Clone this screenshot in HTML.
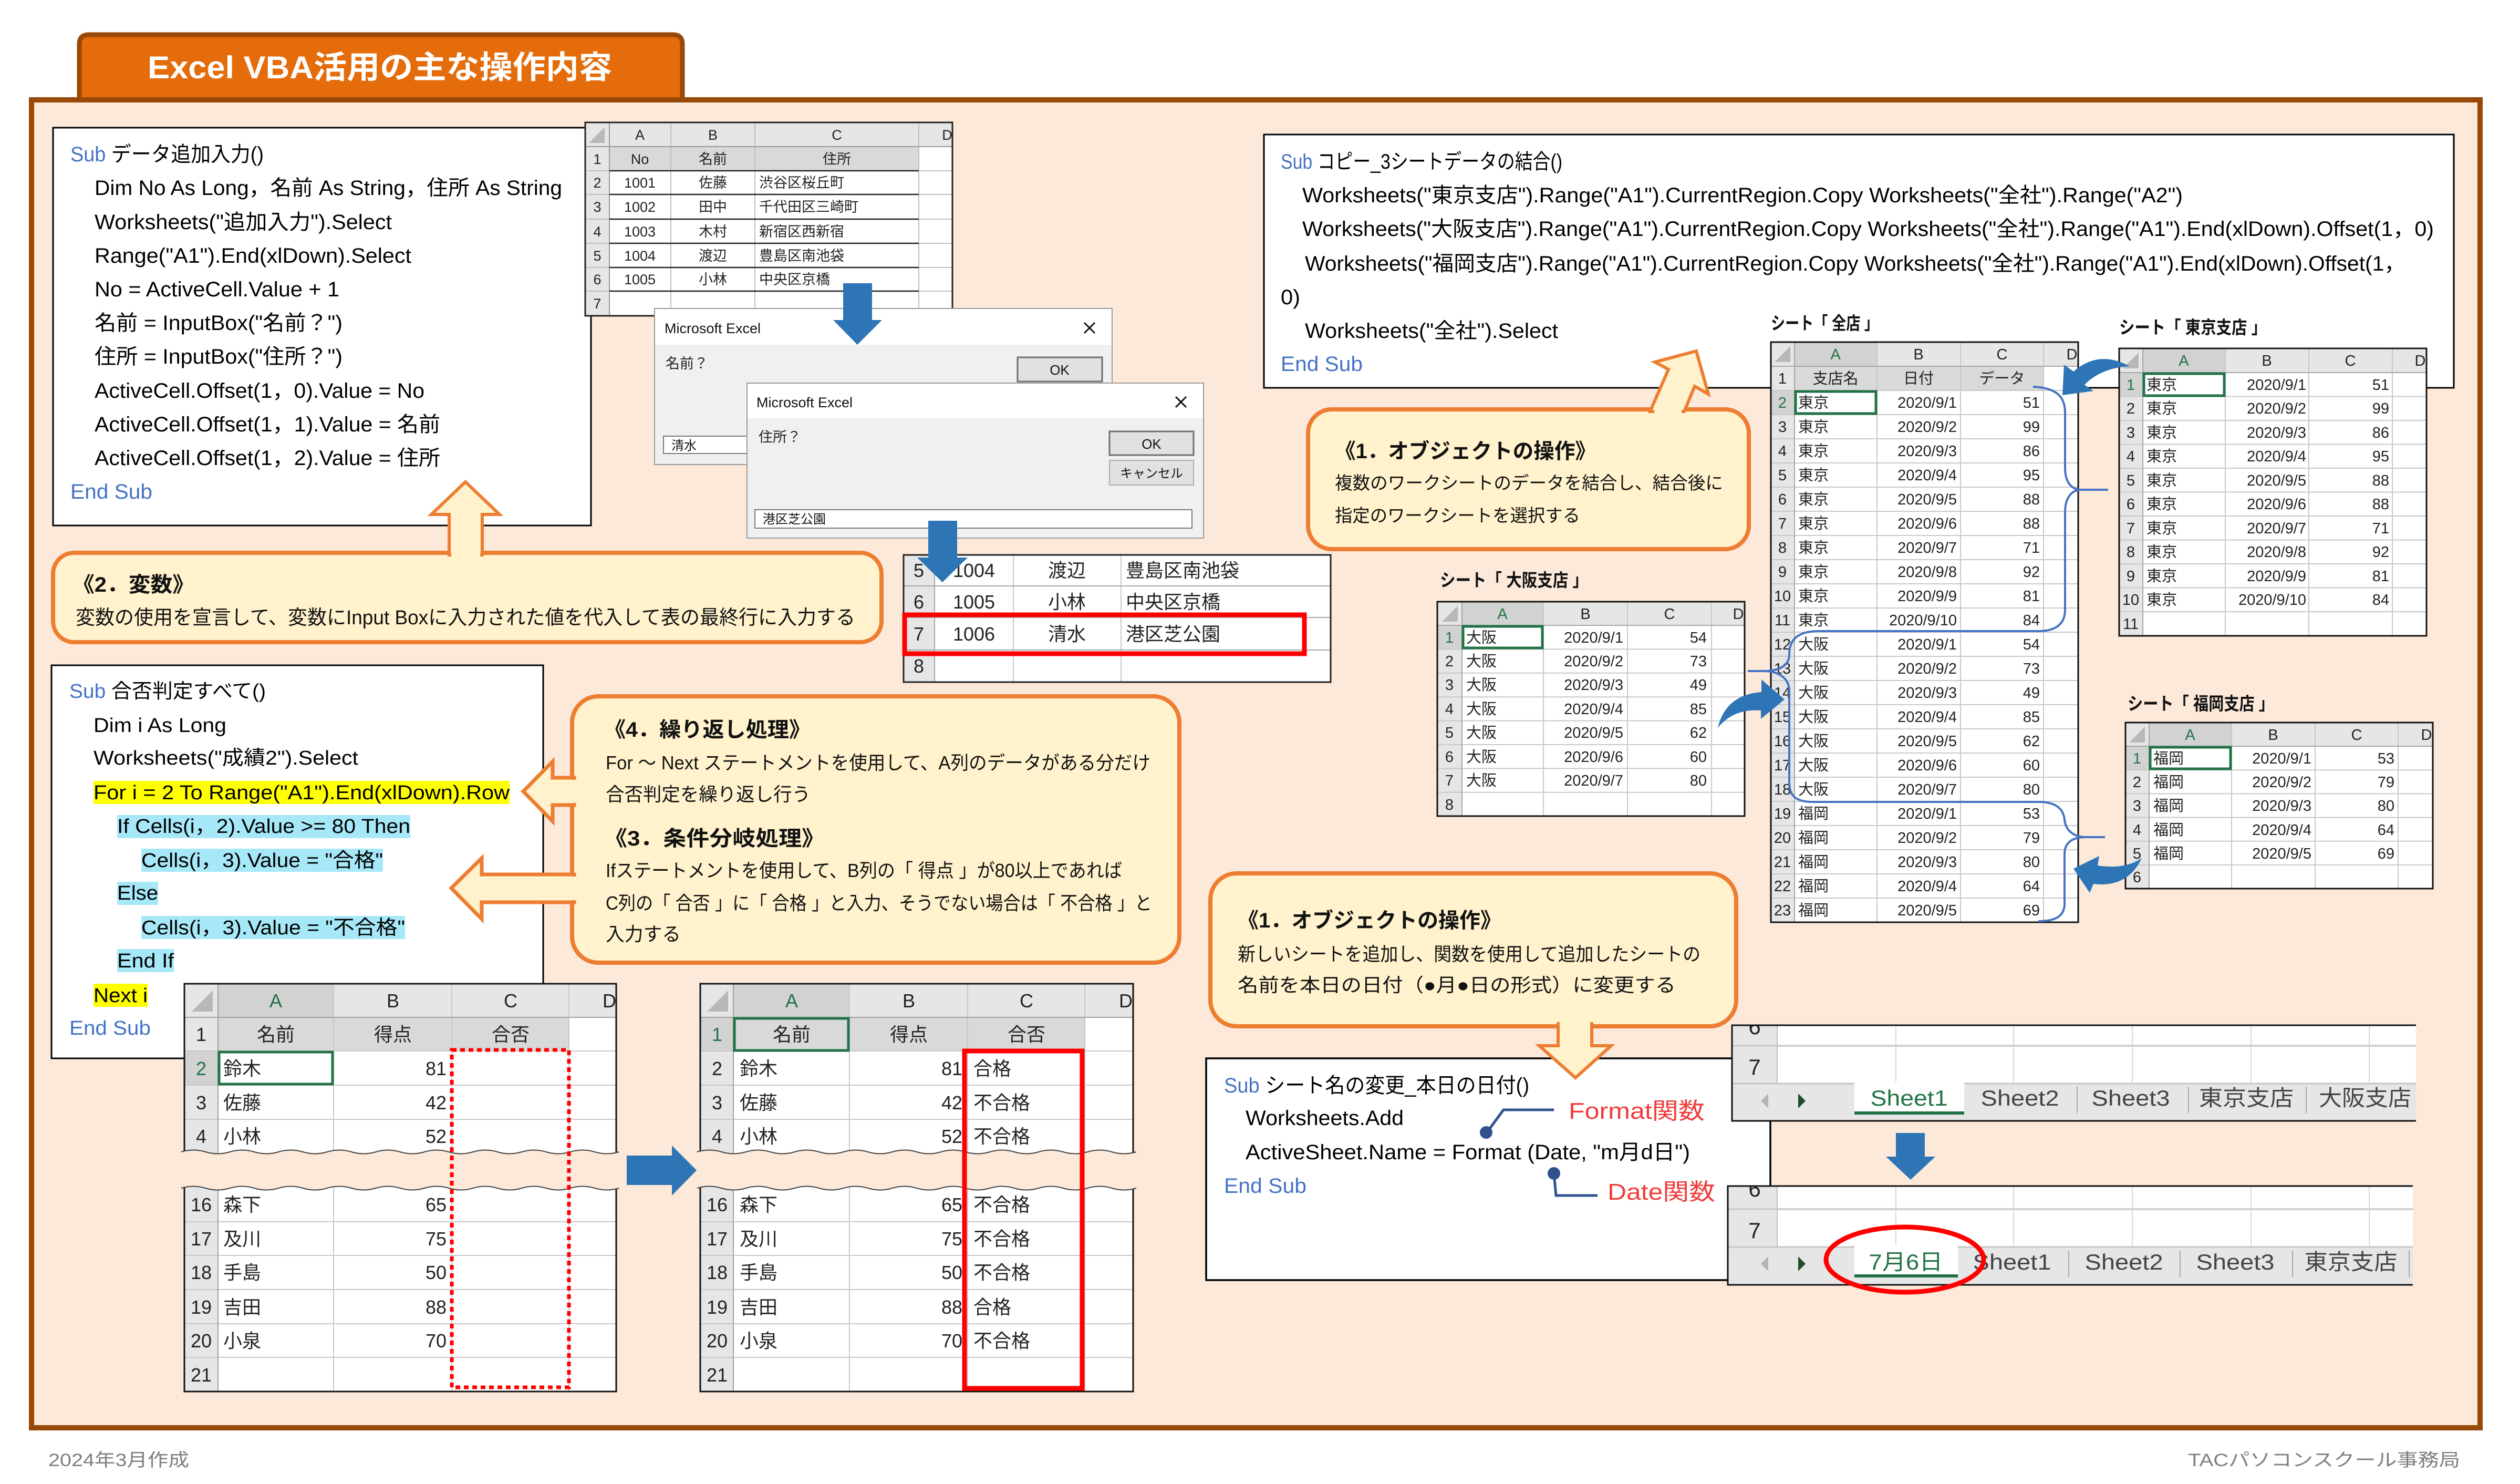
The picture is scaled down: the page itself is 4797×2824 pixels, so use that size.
<!DOCTYPE html>
<html><head><meta charset="utf-8"><title>Excel VBA活用の主な操作内容</title>
<style>
html,body{margin:0;padding:0;background:#fff;}
svg{display:block;}
text{font-family:"Liberation Sans","Noto Sans CJK JP",sans-serif;}
</style></head><body>
<svg xmlns="http://www.w3.org/2000/svg" width="4797" height="2824" viewBox="0 0 4797 2824">
<defs>
<clipPath id="c1"><rect x="1114" y="233" width="699" height="368"/></clipPath>
<clipPath id="t1"><rect x="3297" y="1951" width="1302" height="182"/></clipPath>
<clipPath id="t2"><rect x="3289" y="2257" width="1304" height="188"/></clipPath>
</defs>
<rect width="4797" height="2824" fill="#fff"/>

<!-- Title tab -->
<path d="M151 192 V84 Q151 66 169 66 H1281 Q1299 66 1299 84 V192" fill="#e46c0a" stroke="#984807" stroke-width="9"/>
<text x="281" y="149" font-size="60" font-weight="bold" fill="#fff" textLength="884" lengthAdjust="spacingAndGlyphs">Excel VBA活用の主な操作内容</text>

<!-- Frame -->
<rect x="60" y="190" width="4661" height="2527" fill="#fce9da" stroke="#984807" stroke-width="10"/>

<!-- Code box 1 -->
<rect x="101" y="243" width="1024" height="757" fill="#fff" stroke="#000" stroke-width="3"/>
<g font-size="40" fill="#000">
<text x="134" y="307" textLength="368" lengthAdjust="spacingAndGlyphs"><tspan fill="#4472c4">Sub</tspan> データ追加入力()</text>
<text x="180" y="371" textLength="890" lengthAdjust="spacingAndGlyphs">Dim No As Long，名前 As String，住所 As String</text>
<text x="180" y="436" textLength="566" lengthAdjust="spacingAndGlyphs">Worksheets("追加入力").Select</text>
<text x="180" y="500" textLength="603" lengthAdjust="spacingAndGlyphs">Range("A1").End(xlDown).Select</text>
<text x="180" y="564" textLength="466" lengthAdjust="spacingAndGlyphs">No = ActiveCell.Value + 1</text>
<text x="180" y="628" textLength="472" lengthAdjust="spacingAndGlyphs">名前 = InputBox("名前？")</text>
<text x="180" y="692" textLength="472" lengthAdjust="spacingAndGlyphs">住所 = InputBox("住所？")</text>
<text x="180" y="757" textLength="628" lengthAdjust="spacingAndGlyphs">ActiveCell.Offset(1，0).Value = No</text>
<text x="180" y="821" textLength="658" lengthAdjust="spacingAndGlyphs">ActiveCell.Offset(1，1).Value = 名前</text>
<text x="180" y="885" textLength="658" lengthAdjust="spacingAndGlyphs">ActiveCell.Offset(1，2).Value = 住所</text>
<text x="134" y="949" fill="#4472c4" textLength="156" lengthAdjust="spacingAndGlyphs">End Sub</text>
</g>

<!-- Sheet 1 (top) -->
<g clip-path="url(#c1)">
<rect x="1114" y="233" width="699" height="368" fill="#fff"/>
<rect x="1114" y="233" width="699" height="46" fill="#e6e6e6"/>
<rect x="1114" y="279" width="46" height="322" fill="#e6e6e6"/>
<rect x="1160" y="279" width="589" height="46" fill="#d9d9d9"/>
<path d="M1277 233V601M1437 233V601M1749 233V601" stroke="#c0c0c0" stroke-width="2"/>
<path d="M1114 325H1813M1114 370H1813M1114 417H1813M1114 463H1813M1114 509H1813M1114 554H1813" stroke="#c0c0c0" stroke-width="2"/>
<path d="M1114 279H1813M1160 233V601" stroke="#9a9a9a" stroke-width="2"/>
<path d="M1160 325H1749M1160 370H1749M1160 417H1749M1160 463H1749M1160 509H1749M1160 554H1749" stroke="#222" stroke-width="2.5"/>
<polygon points="1151,242 1151,272 1121,272" fill="#b8b8b8"/>
<g font-size="27" fill="#222" text-anchor="middle">
<text x="1218" y="266">A</text><text x="1357" y="266">B</text><text x="1593" y="266">C</text><text x="1803" y="266">D</text>
<text x="1137" y="312">1</text><text x="1137" y="357">2</text><text x="1137" y="403">3</text><text x="1137" y="450">4</text><text x="1137" y="496">5</text><text x="1137" y="541">6</text><text x="1137" y="587">7</text>
<text x="1218" y="312">No</text><text x="1357" y="312">名前</text><text x="1593" y="312">住所</text>
<text x="1218" y="357">1001</text><text x="1357" y="357">佐藤</text>
<text x="1218" y="403">1002</text><text x="1357" y="403">田中</text>
<text x="1218" y="450">1003</text><text x="1357" y="450">木村</text>
<text x="1218" y="496">1004</text><text x="1357" y="496">渡辺</text>
<text x="1218" y="541">1005</text><text x="1357" y="541">小林</text>
</g>
<g font-size="27" fill="#222">
<text x="1445" y="357">渋谷区桜丘町</text>
<text x="1445" y="403">千代田区三崎町</text>
<text x="1445" y="450">新宿区西新宿</text>
<text x="1445" y="496">豊島区南池袋</text>
<text x="1445" y="541">中央区京橋</text>
</g>
</g>
<rect x="1114" y="233" width="699" height="368" fill="none" stroke="#222" stroke-width="3"/>

<!-- Dialog 1 -->
<rect x="1246" y="587" width="871" height="297" fill="#f0f0f0" stroke="#9a9a9a" stroke-width="2"/>
<rect x="1247" y="588" width="869" height="68" fill="#fff"/>
<text x="1265" y="634" font-size="27" fill="#111">Microsoft Excel</text>
<path d="M2064 614L2084 634M2084 614L2064 634" stroke="#111" stroke-width="3"/>
<text x="1267" y="701" font-size="27" fill="#222">名前？</text>
<rect x="1937" y="680" width="161" height="46" fill="#e1e1e1" stroke="#6e6e6e" stroke-width="3"/>
<text x="2017" y="713" font-size="26" fill="#111" text-anchor="middle">OK</text>
<rect x="1263" y="830" width="300" height="33" fill="#fff" stroke="#7a7a7a" stroke-width="2"/>
<text x="1278" y="856" font-size="24" fill="#111">清水</text>

<!-- Dialog 2 -->
<rect x="1422" y="729" width="869" height="295" fill="#f0f0f0" stroke="#9a9a9a" stroke-width="2"/>
<rect x="1423" y="730" width="867" height="66" fill="#fff"/>
<text x="1440" y="775" font-size="27" fill="#111">Microsoft Excel</text>
<path d="M2238 755L2258 775M2258 755L2238 775" stroke="#111" stroke-width="3"/>
<text x="1444" y="841" font-size="27" fill="#222">住所？</text>
<rect x="2112" y="821" width="160" height="45" fill="#e1e1e1" stroke="#6e6e6e" stroke-width="3"/>
<text x="2192" y="854" font-size="26" fill="#111" text-anchor="middle">OK</text>
<rect x="2112" y="876" width="160" height="47" fill="#e1e1e1" stroke="#adadad" stroke-width="2"/>
<text x="2192" y="909" font-size="24" fill="#111" text-anchor="middle">キャンセル</text>
<rect x="1437" y="970" width="832" height="35" fill="#fff" stroke="#7a7a7a" stroke-width="2"/>
<text x="1452" y="996" font-size="24" fill="#111">港区芝公園</text>

<!-- Arrow 1 -->
<polygon points="1605,539 1660,539 1660,609 1679,609 1632,656 1586,609 1605,609" fill="#2e75b6"/>

<!-- Table 2 -->
<rect x="1720" y="1056" width="813" height="242" fill="#fff"/>
<rect x="1720" y="1056" width="59" height="242" fill="#e6e6e6"/>
<path d="M1929 1056V1298M2134 1056V1298" stroke="#c8c8c8" stroke-width="2"/>
<path d="M1720 1115H2533M1720 1175H2533M1720 1237H2533M1779 1056V1298" stroke="#a6a6a6" stroke-width="2"/>
<rect x="1720" y="1056" width="813" height="242" fill="none" stroke="#222" stroke-width="3"/>
<g font-size="36" fill="#222" text-anchor="middle">
<text x="1749" y="1098">5</text><text x="1749" y="1158">6</text><text x="1749" y="1219">7</text><text x="1749" y="1280">8</text>
<text x="1854" y="1098">1004</text><text x="2031" y="1098">渡辺</text>
<text x="1854" y="1158">1005</text><text x="2031" y="1158">小林</text>
<text x="1854" y="1219">1006</text><text x="2031" y="1219">清水</text>
</g>
<g font-size="36" fill="#222">
<text x="2143" y="1098">豊島区南池袋</text>
<text x="2143" y="1158">中央区京橋</text>
<text x="2143" y="1219">港区芝公園</text>
</g>
<rect x="1722" y="1170" width="761" height="74" fill="none" stroke="#ff0000" stroke-width="9"/>

<!-- Arrow 2 -->
<polygon points="1767,991 1822,991 1822,1061 1842,1061 1794,1108 1746,1061 1767,1061" fill="#2e75b6"/>

<!-- Callout 2 -->
<rect x="101" y="1052" width="1577" height="170" rx="40" fill="#fff2cc" stroke="#ed7d31" stroke-width="8"/>
<polygon points="855,1056 855,979 821,979 886,917 951,979 918,979 918,1056" fill="#fff2cc" stroke="#ed7d31" stroke-width="6" stroke-linejoin="miter"/>
<rect x="859" y="1043" width="55" height="18" fill="#fff2cc"/>
<text x="138" y="1126" font-size="40" font-weight="bold" fill="#111" textLength="232" lengthAdjust="spacingAndGlyphs">《2．変数》</text>
<text x="144" y="1188" font-size="38" fill="#111" textLength="1484" lengthAdjust="spacingAndGlyphs">変数の使用を宣言して、変数にInput Boxに入力された値を代入して表の最終行に入力する</text>

<!-- Code box 2 -->
<rect x="2406" y="256" width="2265" height="482" fill="#fff" stroke="#000" stroke-width="3"/>
<g font-size="40" fill="#000">
<text x="2438" y="321" textLength="536" lengthAdjust="spacingAndGlyphs"><tspan fill="#4472c4">Sub</tspan> コピー_3シートデータの結合()</text>
<text x="2479" y="385" textLength="1676" lengthAdjust="spacingAndGlyphs">Worksheets("東京支店").Range("A1").CurrentRegion.Copy Worksheets("全社").Range("A2")</text>
<text x="2479" y="449" textLength="2154" lengthAdjust="spacingAndGlyphs">Worksheets("大阪支店").Range("A1").CurrentRegion.Copy Worksheets("全社").Range("A1").End(xlDown).Offset(1，0)</text>
<text x="2484" y="515" textLength="2095" lengthAdjust="spacingAndGlyphs">Worksheets("福岡支店").Range("A1").CurrentRegion.Copy Worksheets("全社").Range("A1").End(xlDown).Offset(1，</text>
<text x="2438" y="579" textLength="37" lengthAdjust="spacingAndGlyphs">0)</text>
<text x="2484" y="643" textLength="482" lengthAdjust="spacingAndGlyphs">Worksheets("全社").Select</text>
<text x="2438" y="706" fill="#4472c4" textLength="156" lengthAdjust="spacingAndGlyphs">End Sub</text>
</g>

<!-- Callout 1 -->
<rect x="2490" y="779" width="839" height="266" rx="45" fill="#fff2cc" stroke="#ed7d31" stroke-width="8"/>
<polygon points="3141,783 3176,703 3150,689 3229,668 3252,750 3226,735 3206,783" fill="#fff2cc" stroke="#ed7d31" stroke-width="6"/>
<rect x="3149" y="774" width="52" height="16" fill="#fff2cc"/>
<text x="2541" y="872" font-size="40" font-weight="bold" fill="#111" textLength="497" lengthAdjust="spacingAndGlyphs">《1．オブジェクトの操作》</text>
<text x="2541" y="931" font-size="34" fill="#111" textLength="739" lengthAdjust="spacingAndGlyphs">複数のワークシートのデータを結合し、結合後に</text>
<text x="2541" y="993" font-size="34" fill="#111" textLength="467" lengthAdjust="spacingAndGlyphs">指定のワークシートを選択する</text>

<!-- Labels -->
<g font-size="34" font-weight="bold" fill="#111">
<text x="3371" y="627" textLength="205" lengthAdjust="spacingAndGlyphs">シート「 全店 」</text>
<text x="4034" y="635" textLength="281" lengthAdjust="spacingAndGlyphs">シート「 東京支店 」</text>
<text x="2741" y="1116" textLength="282" lengthAdjust="spacingAndGlyphs">シート「 大阪支店 」</text>
<text x="4050" y="1351" textLength="279" lengthAdjust="spacingAndGlyphs">シート「 福岡支店 」</text>
</g>

<!-- 全店 table -->
<rect x="3371" y="651" width="585" height="1104" fill="#fff"/>
<rect x="3371" y="651" width="585" height="46" fill="#e6e6e6"/>
<rect x="3416" y="651" width="157" height="46" fill="#d2d2d2"/>
<rect x="3371" y="697" width="45" height="1058" fill="#e6e6e6"/>
<rect x="3371" y="743" width="45" height="46" fill="#d2d2d2"/>
<rect x="3416" y="697" width="474" height="46" fill="#d9d9d9"/>
<path d="M3371 743H3956M3371 789H3956M3371 835H3956M3371 881H3956M3371 927H3956M3371 973H3956M3371 1019H3956M3371 1065H3956M3371 1111H3956M3371 1157H3956M3371 1203H3956M3371 1249H3956M3371 1295H3956M3371 1341H3956M3371 1387H3956M3371 1433H3956M3371 1479H3956M3371 1525H3956M3371 1571H3956M3371 1617H3956M3371 1663H3956M3371 1709H3956M3573 651V1755M3732 651V1755M3890 651V1755" stroke="#c8c8c8" stroke-width="2"/>
<path d="M3371 697H3956M3416 651V1755" stroke="#a6a6a6" stroke-width="2"/>
<polygon points="3408,659 3408,689 3378,689" fill="#b8b8b8"/>
<rect x="3371" y="651" width="585" height="1104" fill="none" stroke="#111" stroke-width="3"/>
<rect x="3418" y="745" width="153" height="42" fill="none" stroke="#217346" stroke-width="5"/>
<g font-size="29" fill="#222" text-anchor="middle">
<text x="3494" y="684" fill="#217346">A</text><text x="3652" y="684">B</text><text x="3811" y="684">C</text><text x="3944" y="684">D</text>
<text x="3393" y="776" fill="#217346">2</text>
<text><tspan x="3393" y="730">1</tspan><tspan x="3393" y="822">3</tspan><tspan x="3393" y="868">4</tspan><tspan x="3393" y="914">5</tspan><tspan x="3393" y="960">6</tspan><tspan x="3393" y="1006">7</tspan><tspan x="3393" y="1052">8</tspan><tspan x="3393" y="1098">9</tspan><tspan x="3393" y="1144">10</tspan><tspan x="3393" y="1190">11</tspan><tspan x="3393" y="1236">12</tspan><tspan x="3393" y="1282">13</tspan><tspan x="3393" y="1328">14</tspan><tspan x="3393" y="1374">15</tspan><tspan x="3393" y="1420">16</tspan><tspan x="3393" y="1466">17</tspan><tspan x="3393" y="1512">18</tspan><tspan x="3393" y="1558">19</tspan><tspan x="3393" y="1604">20</tspan><tspan x="3393" y="1650">21</tspan><tspan x="3393" y="1696">22</tspan><tspan x="3393" y="1742">23</tspan></text>
<text x="3494" y="730">支店名</text><text x="3652" y="730">日付</text><text x="3811" y="730">データ</text>
</g>
<text font-size="29" fill="#222"><tspan x="3423" y="776">東京</tspan><tspan x="3423" y="822">東京</tspan><tspan x="3423" y="868">東京</tspan><tspan x="3423" y="914">東京</tspan><tspan x="3423" y="960">東京</tspan><tspan x="3423" y="1006">東京</tspan><tspan x="3423" y="1052">東京</tspan><tspan x="3423" y="1098">東京</tspan><tspan x="3423" y="1144">東京</tspan><tspan x="3423" y="1190">東京</tspan><tspan x="3423" y="1236">大阪</tspan><tspan x="3423" y="1282">大阪</tspan><tspan x="3423" y="1328">大阪</tspan><tspan x="3423" y="1374">大阪</tspan><tspan x="3423" y="1420">大阪</tspan><tspan x="3423" y="1466">大阪</tspan><tspan x="3423" y="1512">大阪</tspan><tspan x="3423" y="1558">福岡</tspan><tspan x="3423" y="1604">福岡</tspan><tspan x="3423" y="1650">福岡</tspan><tspan x="3423" y="1696">福岡</tspan><tspan x="3423" y="1742">福岡</tspan></text>
<text font-size="29" fill="#222" text-anchor="end"><tspan x="3725" y="776">2020/9/1</tspan><tspan x="3725" y="822">2020/9/2</tspan><tspan x="3725" y="868">2020/9/3</tspan><tspan x="3725" y="914">2020/9/4</tspan><tspan x="3725" y="960">2020/9/5</tspan><tspan x="3725" y="1006">2020/9/6</tspan><tspan x="3725" y="1052">2020/9/7</tspan><tspan x="3725" y="1098">2020/9/8</tspan><tspan x="3725" y="1144">2020/9/9</tspan><tspan x="3725" y="1190">2020/9/10</tspan><tspan x="3725" y="1236">2020/9/1</tspan><tspan x="3725" y="1282">2020/9/2</tspan><tspan x="3725" y="1328">2020/9/3</tspan><tspan x="3725" y="1374">2020/9/4</tspan><tspan x="3725" y="1420">2020/9/5</tspan><tspan x="3725" y="1466">2020/9/6</tspan><tspan x="3725" y="1512">2020/9/7</tspan><tspan x="3725" y="1558">2020/9/1</tspan><tspan x="3725" y="1604">2020/9/2</tspan><tspan x="3725" y="1650">2020/9/3</tspan><tspan x="3725" y="1696">2020/9/4</tspan><tspan x="3725" y="1742">2020/9/5</tspan></text>
<text font-size="29" fill="#222" text-anchor="end"><tspan x="3883" y="776">51</tspan><tspan x="3883" y="822">99</tspan><tspan x="3883" y="868">86</tspan><tspan x="3883" y="914">95</tspan><tspan x="3883" y="960">88</tspan><tspan x="3883" y="1006">88</tspan><tspan x="3883" y="1052">71</tspan><tspan x="3883" y="1098">92</tspan><tspan x="3883" y="1144">81</tspan><tspan x="3883" y="1190">84</tspan><tspan x="3883" y="1236">54</tspan><tspan x="3883" y="1282">73</tspan><tspan x="3883" y="1328">49</tspan><tspan x="3883" y="1374">85</tspan><tspan x="3883" y="1420">62</tspan><tspan x="3883" y="1466">60</tspan><tspan x="3883" y="1512">80</tspan><tspan x="3883" y="1558">53</tspan><tspan x="3883" y="1604">79</tspan><tspan x="3883" y="1650">80</tspan><tspan x="3883" y="1696">64</tspan><tspan x="3883" y="1742">69</tspan></text>

<!-- 東京支店 table -->
<rect x="4034" y="663" width="585" height="547" fill="#fff"/>
<rect x="4034" y="663" width="585" height="46" fill="#e6e6e6"/>
<rect x="4079" y="663" width="157" height="46" fill="#d2d2d2"/>
<rect x="4034" y="709" width="45" height="501" fill="#e6e6e6"/>
<rect x="4034" y="709" width="45" height="45.5" fill="#d2d2d2"/>
<path d="M4034 754.5H4619M4034 800H4619M4034 845.5H4619M4034 891H4619M4034 936.5H4619M4034 982H4619M4034 1027.5H4619M4034 1073H4619M4034 1118.5H4619M4034 1164H4619M4236 663V1210M4395 663V1210M4554 663V1210" stroke="#c8c8c8" stroke-width="2"/>
<path d="M4034 709H4619M4079 663V1210" stroke="#a6a6a6" stroke-width="2"/>
<polygon points="4071,671 4071,701 4041,701" fill="#b8b8b8"/>
<rect x="4034" y="663" width="585" height="547" fill="none" stroke="#111" stroke-width="3"/>
<rect x="4081" y="711" width="153" height="42" fill="none" stroke="#217346" stroke-width="5"/>
<g font-size="29" fill="#222" text-anchor="middle">
<text x="4157" y="696" fill="#217346">A</text><text x="4315" y="696">B</text><text x="4474" y="696">C</text><text x="4607" y="696">D</text>
<text x="4056" y="742" fill="#217346">1</text>
<text><tspan x="4056" y="787">2</tspan><tspan x="4056" y="833">3</tspan><tspan x="4056" y="878">4</tspan><tspan x="4056" y="924">5</tspan><tspan x="4056" y="969">6</tspan><tspan x="4056" y="1015">7</tspan><tspan x="4056" y="1060">8</tspan><tspan x="4056" y="1106">9</tspan><tspan x="4056" y="1151">10</tspan><tspan x="4056" y="1197">11</tspan></text>
</g>
<text font-size="29" fill="#222"><tspan x="4086" y="742">東京</tspan><tspan x="4086" y="787">東京</tspan><tspan x="4086" y="833">東京</tspan><tspan x="4086" y="878">東京</tspan><tspan x="4086" y="924">東京</tspan><tspan x="4086" y="969">東京</tspan><tspan x="4086" y="1015">東京</tspan><tspan x="4086" y="1060">東京</tspan><tspan x="4086" y="1106">東京</tspan><tspan x="4086" y="1151">東京</tspan></text>
<text font-size="29" fill="#222" text-anchor="end"><tspan x="4390" y="742">2020/9/1</tspan><tspan x="4390" y="787">2020/9/2</tspan><tspan x="4390" y="833">2020/9/3</tspan><tspan x="4390" y="878">2020/9/4</tspan><tspan x="4390" y="924">2020/9/5</tspan><tspan x="4390" y="969">2020/9/6</tspan><tspan x="4390" y="1015">2020/9/7</tspan><tspan x="4390" y="1060">2020/9/8</tspan><tspan x="4390" y="1106">2020/9/9</tspan><tspan x="4390" y="1151">2020/9/10</tspan></text>
<text font-size="29" fill="#222" text-anchor="end"><tspan x="4548" y="742">51</tspan><tspan x="4548" y="787">99</tspan><tspan x="4548" y="833">86</tspan><tspan x="4548" y="878">95</tspan><tspan x="4548" y="924">88</tspan><tspan x="4548" y="969">88</tspan><tspan x="4548" y="1015">71</tspan><tspan x="4548" y="1060">92</tspan><tspan x="4548" y="1106">81</tspan><tspan x="4548" y="1151">84</tspan></text>

<!-- 大阪支店 table -->
<rect x="2736" y="1145" width="585" height="408" fill="#fff"/>
<rect x="2736" y="1145" width="585" height="45" fill="#e6e6e6"/>
<rect x="2783" y="1145" width="155" height="45" fill="#d2d2d2"/>
<rect x="2736" y="1190" width="47" height="363" fill="#e6e6e6"/>
<rect x="2736" y="1190" width="47" height="45.4" fill="#d2d2d2"/>
<path d="M2736 1235.4H3321M2736 1280.8H3321M2736 1326.2H3321M2736 1371.6H3321M2736 1417H3321M2736 1462.4H3321M2736 1507.8H3321M2938 1145V1553M3098 1145V1553M3258 1145V1553" stroke="#c8c8c8" stroke-width="2"/>
<path d="M2736 1190H3321M2783 1145V1553" stroke="#a6a6a6" stroke-width="2"/>
<polygon points="2775,1153 2775,1183 2745,1183" fill="#b8b8b8"/>
<rect x="2736" y="1145" width="585" height="408" fill="none" stroke="#111" stroke-width="3"/>
<rect x="2785" y="1192" width="151" height="41" fill="none" stroke="#217346" stroke-width="5"/>
<g font-size="29" fill="#222" text-anchor="middle">
<text x="2860" y="1178" fill="#217346">A</text><text x="3018" y="1178">B</text><text x="3178" y="1178">C</text><text x="3309" y="1178">D</text>
<text x="2759" y="1223" fill="#217346">1</text>
<text><tspan x="2759" y="1268">2</tspan><tspan x="2759" y="1313">3</tspan><tspan x="2759" y="1359">4</tspan><tspan x="2759" y="1404">5</tspan><tspan x="2759" y="1450">6</tspan><tspan x="2759" y="1495">7</tspan><tspan x="2759" y="1541">8</tspan></text>
</g>
<text font-size="29" fill="#222"><tspan x="2791" y="1223">大阪</tspan><tspan x="2791" y="1268">大阪</tspan><tspan x="2791" y="1313">大阪</tspan><tspan x="2791" y="1359">大阪</tspan><tspan x="2791" y="1404">大阪</tspan><tspan x="2791" y="1450">大阪</tspan><tspan x="2791" y="1495">大阪</tspan></text>
<text font-size="29" fill="#222" text-anchor="end"><tspan x="3090" y="1223">2020/9/1</tspan><tspan x="3090" y="1268">2020/9/2</tspan><tspan x="3090" y="1313">2020/9/3</tspan><tspan x="3090" y="1359">2020/9/4</tspan><tspan x="3090" y="1404">2020/9/5</tspan><tspan x="3090" y="1450">2020/9/6</tspan><tspan x="3090" y="1495">2020/9/7</tspan></text>
<text font-size="29" fill="#222" text-anchor="end"><tspan x="3249" y="1223">54</tspan><tspan x="3249" y="1268">73</tspan><tspan x="3249" y="1313">49</tspan><tspan x="3249" y="1359">85</tspan><tspan x="3249" y="1404">62</tspan><tspan x="3249" y="1450">60</tspan><tspan x="3249" y="1495">80</tspan></text>

<!-- 福岡支店 table -->
<rect x="4046" y="1375" width="585" height="316" fill="#fff"/>
<rect x="4046" y="1375" width="585" height="45" fill="#e6e6e6"/>
<rect x="4091" y="1375" width="157" height="45" fill="#d2d2d2"/>
<rect x="4046" y="1420" width="45" height="271" fill="#e6e6e6"/>
<rect x="4046" y="1420" width="45" height="45.2" fill="#d2d2d2"/>
<path d="M4046 1465.2H4631M4046 1510.4H4631M4046 1555.6H4631M4046 1600.8H4631M4046 1646H4631M4248 1375V1691M4407 1375V1691M4565 1375V1691" stroke="#c8c8c8" stroke-width="2"/>
<path d="M4046 1420H4631M4091 1375V1691" stroke="#a6a6a6" stroke-width="2"/>
<polygon points="4083,1383 4083,1413 4053,1413" fill="#b8b8b8"/>
<rect x="4046" y="1375" width="585" height="316" fill="none" stroke="#111" stroke-width="3"/>
<rect x="4093" y="1422" width="153" height="41" fill="none" stroke="#217346" stroke-width="5"/>
<g font-size="29" fill="#222" text-anchor="middle">
<text x="4169" y="1408" fill="#217346">A</text><text x="4327" y="1408">B</text><text x="4486" y="1408">C</text><text x="4619" y="1408">D</text>
<text x="4068" y="1453" fill="#217346">1</text>
<text><tspan x="4068" y="1498">2</tspan><tspan x="4068" y="1543">3</tspan><tspan x="4068" y="1589">4</tspan><tspan x="4068" y="1634">5</tspan><tspan x="4068" y="1679">6</tspan></text>
</g>
<text font-size="29" fill="#222"><tspan x="4099" y="1453">福岡</tspan><tspan x="4099" y="1498">福岡</tspan><tspan x="4099" y="1543">福岡</tspan><tspan x="4099" y="1589">福岡</tspan><tspan x="4099" y="1634">福岡</tspan></text>
<text font-size="29" fill="#222" text-anchor="end"><tspan x="4400" y="1453">2020/9/1</tspan><tspan x="4400" y="1498">2020/9/2</tspan><tspan x="4400" y="1543">2020/9/3</tspan><tspan x="4400" y="1589">2020/9/4</tspan><tspan x="4400" y="1634">2020/9/5</tspan></text>
<text font-size="29" fill="#222" text-anchor="end"><tspan x="4558" y="1453">53</tspan><tspan x="4558" y="1498">79</tspan><tspan x="4558" y="1543">80</tspan><tspan x="4558" y="1589">64</tspan><tspan x="4558" y="1634">69</tspan></text>

<!-- Braces -->
<path d="M3870 736 C3915 738 3931 755 3931 785 L3931 890 C3931 920 3945 932 3962 932 L4013 932 M3962 932 C3945 932 3931 945 3931 975 L3931 1160 C3931 1190 3910 1201 3880 1201 L3462 1201 C3425 1201 3406 1215 3406 1245 C3406 1268 3385 1277 3357 1277 L3327 1277 M3357 1277 C3385 1277 3406 1290 3406 1315 L3406 1490 C3406 1515 3420 1526 3450 1526 L3880 1526 C3915 1526 3928 1540 3930 1560 C3932 1582 3950 1593 3970 1593 L4007 1593 M3970 1593 C3950 1593 3930 1600 3930 1625 L3930 1720 C3930 1745 3910 1753 3880 1753" fill="none" stroke="#4472c4" stroke-width="4"/>

<!-- Curved arrows -->
<path d="M4054 697 Q3995 665 3947 707 L3929 694 L3926 752 L3985 744 L3968 732 Q4000 700 4054 697 Z" fill="#2e75b6"/>
<path d="M3270 1385 Q3285 1322 3353 1317 L3353 1293 L3397 1331 L3352 1368 L3352 1352 Q3300 1348 3270 1385 Z" fill="#2e75b6"/>
<path d="M4077 1633 Q4050 1690 3985 1682 L3978 1699 L3947 1653 L3996 1629 L3993 1647 Q4045 1655 4077 1633 Z" fill="#2e75b6"/>

<!-- Code box 3 -->
<rect x="98" y="1266" width="936" height="748" fill="#fff" stroke="#000" stroke-width="3"/>
<rect x="178" y="1486" width="792" height="44" fill="#ffff00"/>
<rect x="223" y="1551" width="558" height="44" fill="#a6e8f8"/>
<rect x="269" y="1615" width="460" height="44" fill="#a6e8f8"/>
<rect x="223" y="1678" width="78" height="44" fill="#a6e8f8"/>
<rect x="269" y="1743" width="502" height="44" fill="#a6e8f8"/>
<rect x="223" y="1806" width="108" height="44" fill="#a6e8f8"/>
<rect x="178" y="1872" width="103" height="44" fill="#ffff00"/>
<g font-size="38" fill="#000">
<text x="132" y="1328" textLength="374" lengthAdjust="spacingAndGlyphs"><tspan fill="#4472c4">Sub</tspan> 合否判定すべて()</text>
<text x="178" y="1393" textLength="253" lengthAdjust="spacingAndGlyphs">Dim i As Long</text>
<text x="178" y="1455" textLength="504" lengthAdjust="spacingAndGlyphs">Worksheets("成績2").Select</text>
<text x="178" y="1521" textLength="792" lengthAdjust="spacingAndGlyphs">For i = 2 To Range("A1").End(xlDown).Row</text>
<text x="223" y="1585" textLength="558" lengthAdjust="spacingAndGlyphs">If Cells(i，2).Value &gt;= 80 Then</text>
<text x="269" y="1650" textLength="460" lengthAdjust="spacingAndGlyphs">Cells(i，3).Value = "合格"</text>
<text x="223" y="1712" textLength="78" lengthAdjust="spacingAndGlyphs">Else</text>
<text x="269" y="1778" textLength="502" lengthAdjust="spacingAndGlyphs">Cells(i，3).Value = "不合格"</text>
<text x="223" y="1841" textLength="108" lengthAdjust="spacingAndGlyphs">End If</text>
<text x="178" y="1907" textLength="103" lengthAdjust="spacingAndGlyphs">Next i</text>
<text x="132" y="1969" fill="#4472c4" textLength="155" lengthAdjust="spacingAndGlyphs">End Sub</text>
</g>

<!-- Callout 4/3 -->
<rect x="1089" y="1325" width="1156" height="507" rx="50" fill="#fff2cc" stroke="#ed7d31" stroke-width="8"/>
<polygon points="1093,1480 1052,1480 1052,1449 996,1506 1052,1563 1052,1532 1093,1532" fill="#fff2cc" stroke="#ed7d31" stroke-width="7"/>
<polygon points="1093,1664 917,1664 917,1633 859,1690 917,1749 917,1717 1093,1717" fill="#fff2cc" stroke="#ed7d31" stroke-width="7"/>
<rect x="1080" y="1484" width="18" height="44" fill="#fff2cc"/>
<rect x="1080" y="1668" width="18" height="45" fill="#fff2cc"/>
<text x="1150" y="1402" font-size="40" font-weight="bold" fill="#111" textLength="393" lengthAdjust="spacingAndGlyphs">《4．繰り返し処理》</text>
<text x="1153" y="1464" font-size="36" fill="#111" textLength="1037" lengthAdjust="spacingAndGlyphs">For ～ Next ステートメントを使用して、A列のデータがある分だけ</text>
<text x="1153" y="1524" font-size="36" fill="#111" textLength="390" lengthAdjust="spacingAndGlyphs">合否判定を繰り返し行う</text>
<text x="1150" y="1609" font-size="40" font-weight="bold" fill="#111" textLength="420" lengthAdjust="spacingAndGlyphs">《3．条件分岐処理》</text>
<text x="1153" y="1669" font-size="36" fill="#111" textLength="983" lengthAdjust="spacingAndGlyphs">Ifステートメントを使用して、B列の「 得点 」が80以上であれば</text>
<text x="1153" y="1731" font-size="36" fill="#111" textLength="1040" lengthAdjust="spacingAndGlyphs">C列の「 合否 」に「 合格 」と入力、そうでない場合は「 不合格 」と</text>
<text x="1153" y="1790" font-size="36" fill="#111" textLength="143" lengthAdjust="spacingAndGlyphs">入力する</text>

<!-- Table 3 (before) -->
<rect x="351" y="1872" width="822" height="776" fill="#fff"/>
<rect x="351" y="1872" width="822" height="64" fill="#e6e6e6"/>
<rect x="415" y="1872" width="220" height="64" fill="#d2d2d2"/>
<rect x="351" y="1936" width="64" height="712" fill="#e6e6e6"/>
<rect x="351" y="2000" width="64" height="65" fill="#d2d2d2"/>
<rect x="415" y="1936" width="668" height="64" fill="#d9d9d9"/>
<path d="M351 2000H1173M351 2065H1173M351 2130H1173M351 2325H1173M351 2389H1173M351 2454H1173M351 2519H1173M351 2583H1173M635 1872V2648M860 1872V2648M1083 1872V2648" stroke="#c8c8c8" stroke-width="2"/>
<path d="M351 1936H1173M415 1872V2648" stroke="#a0a0a0" stroke-width="2"/>
<polygon points="405,1885 405,1925 365,1925" fill="#b8b8b8"/>
<rect x="351" y="1872" width="822" height="776" fill="none" stroke="#111" stroke-width="3"/>
<rect x="417" y="2002" width="216" height="61" fill="none" stroke="#217346" stroke-width="5"/>
<g font-size="36" fill="#222" text-anchor="middle">
<text x="525" y="1917" fill="#217346">A</text><text x="748" y="1917">B</text><text x="972" y="1917">C</text><text x="1160" y="1917">D</text>
<text x="383" y="2046" fill="#217346">2</text>
<text><tspan x="383" y="1981">1</tspan><tspan x="383" y="2111">3</tspan><tspan x="383" y="2175">4</tspan><tspan x="383" y="2305">16</tspan><tspan x="383" y="2370">17</tspan><tspan x="383" y="2434">18</tspan><tspan x="383" y="2500">19</tspan><tspan x="383" y="2564">20</tspan><tspan x="383" y="2629">21</tspan></text>
<text x="525" y="1981">名前</text><text x="748" y="1981">得点</text><text x="972" y="1981">合否</text>
</g>
<text font-size="36" fill="#222"><tspan x="425" y="2046">鈴木</tspan><tspan x="425" y="2111">佐藤</tspan><tspan x="425" y="2175">小林</tspan><tspan x="425" y="2305">森下</tspan><tspan x="425" y="2370">及川</tspan><tspan x="425" y="2434">手島</tspan><tspan x="425" y="2500">吉田</tspan><tspan x="425" y="2564">小泉</tspan></text>
<text font-size="36" fill="#222" text-anchor="end"><tspan x="850" y="2046">81</tspan><tspan x="850" y="2111">42</tspan><tspan x="850" y="2175">52</tspan><tspan x="850" y="2305">65</tspan><tspan x="850" y="2370">75</tspan><tspan x="850" y="2434">50</tspan><tspan x="850" y="2500">88</tspan><tspan x="850" y="2564">70</tspan></text>
<!-- gap t3 -->
<path d="M345 2192 q23.15 -7 46.3 0 t46.3 0 t46.3 0 t46.3 0 t46.3 0 t46.3 0 t46.3 0 t46.3 0 t46.3 0 t46.3 0 t46.3 0 t46.3 0 t46.3 0 t46.3 0 t46.3 0 t46.3 0 t46.3 0 t46.3 0 L1178.4 2228 L345 2228 Z" fill="#fce9da"/>
<path d="M345 2261 q23.15 -7 46.3 0 t46.3 0 t46.3 0 t46.3 0 t46.3 0 t46.3 0 t46.3 0 t46.3 0 t46.3 0 t46.3 0 t46.3 0 t46.3 0 t46.3 0 t46.3 0 t46.3 0 t46.3 0 t46.3 0 t46.3 0 L1178.4 2226 L345 2226 Z" fill="#fce9da"/>
<path d="M345 2192 q23.15 -7 46.3 0 t46.3 0 t46.3 0 t46.3 0 t46.3 0 t46.3 0 t46.3 0 t46.3 0 t46.3 0 t46.3 0 t46.3 0 t46.3 0 t46.3 0 t46.3 0 t46.3 0 t46.3 0 t46.3 0 t46.3 0 M345 2261 q23.15 -7 46.3 0 t46.3 0 t46.3 0 t46.3 0 t46.3 0 t46.3 0 t46.3 0 t46.3 0 t46.3 0 t46.3 0 t46.3 0 t46.3 0 t46.3 0 t46.3 0 t46.3 0 t46.3 0 t46.3 0 t46.3 0" fill="none" stroke="#444" stroke-width="2"/>
<rect x="860" y="1998" width="223" height="642" fill="none" stroke="#ff0000" stroke-width="7" stroke-dasharray="9 7"/>

<!-- Right arrow -->
<polygon points="1193,2199 1279,2199 1279,2180 1326,2227 1279,2275 1279,2255 1193,2255" fill="#2e75b6"/>

<!-- Table 4 (after) -->
<rect x="1333" y="1872" width="824" height="776" fill="#fff"/>
<rect x="1333" y="1872" width="824" height="64" fill="#e6e6e6"/>
<rect x="1396" y="1872" width="221" height="64" fill="#d2d2d2"/>
<rect x="1333" y="1936" width="63" height="712" fill="#e6e6e6"/>
<rect x="1333" y="1936" width="63" height="64" fill="#d2d2d2"/>
<rect x="1396" y="1936" width="669" height="64" fill="#d9d9d9"/>
<path d="M1333 2000H2157M1333 2065H2157M1333 2130H2157M1333 2325H2157M1333 2389H2157M1333 2454H2157M1333 2519H2157M1333 2583H2157M1617 1872V2648M1842 1872V2648M2065 1872V2648" stroke="#c8c8c8" stroke-width="2"/>
<path d="M1333 1936H2157M1396 1872V2648" stroke="#a0a0a0" stroke-width="2"/>
<polygon points="1386,1885 1386,1925 1346,1925" fill="#b8b8b8"/>
<rect x="1333" y="1872" width="824" height="776" fill="none" stroke="#111" stroke-width="3"/>
<rect x="1398" y="1938" width="217" height="61" fill="none" stroke="#217346" stroke-width="5"/>
<g font-size="36" fill="#222" text-anchor="middle">
<text x="1507" y="1917" fill="#217346">A</text><text x="1730" y="1917">B</text><text x="1954" y="1917">C</text><text x="2143" y="1917">D</text>
<text x="1365" y="1981" fill="#217346">1</text>
<text><tspan x="1365" y="2046">2</tspan><tspan x="1365" y="2111">3</tspan><tspan x="1365" y="2175">4</tspan><tspan x="1365" y="2305">16</tspan><tspan x="1365" y="2370">17</tspan><tspan x="1365" y="2434">18</tspan><tspan x="1365" y="2500">19</tspan><tspan x="1365" y="2564">20</tspan><tspan x="1365" y="2629">21</tspan></text>
<text x="1507" y="1981">名前</text><text x="1730" y="1981">得点</text><text x="1954" y="1981">合否</text>
</g>
<text font-size="36" fill="#222"><tspan x="1408" y="2046">鈴木</tspan><tspan x="1408" y="2111">佐藤</tspan><tspan x="1408" y="2175">小林</tspan><tspan x="1408" y="2305">森下</tspan><tspan x="1408" y="2370">及川</tspan><tspan x="1408" y="2434">手島</tspan><tspan x="1408" y="2500">吉田</tspan><tspan x="1408" y="2564">小泉</tspan></text>
<text font-size="36" fill="#222" text-anchor="end"><tspan x="1832" y="2046">81</tspan><tspan x="1832" y="2111">42</tspan><tspan x="1832" y="2175">52</tspan><tspan x="1832" y="2305">65</tspan><tspan x="1832" y="2370">75</tspan><tspan x="1832" y="2434">50</tspan><tspan x="1832" y="2500">88</tspan><tspan x="1832" y="2564">70</tspan></text>
<text font-size="36" fill="#222"><tspan x="1853" y="2046">合格</tspan><tspan x="1853" y="2111">不合格</tspan><tspan x="1853" y="2175">不合格</tspan><tspan x="1853" y="2305">不合格</tspan><tspan x="1853" y="2370">不合格</tspan><tspan x="1853" y="2434">不合格</tspan><tspan x="1853" y="2500">合格</tspan><tspan x="1853" y="2564">不合格</tspan></text>
<!-- gap t4 -->
<path d="M1327 2192 q23.22 -7 46.44 0 t46.44 0 t46.44 0 t46.44 0 t46.44 0 t46.44 0 t46.44 0 t46.44 0 t46.44 0 t46.44 0 t46.44 0 t46.44 0 t46.44 0 t46.44 0 t46.44 0 t46.44 0 t46.44 0 t46.44 0 L2163 2228 L1327 2228 Z" fill="#fce9da"/>
<path d="M1327 2261 q23.22 -7 46.44 0 t46.44 0 t46.44 0 t46.44 0 t46.44 0 t46.44 0 t46.44 0 t46.44 0 t46.44 0 t46.44 0 t46.44 0 t46.44 0 t46.44 0 t46.44 0 t46.44 0 t46.44 0 t46.44 0 t46.44 0 L2163 2226 L1327 2226 Z" fill="#fce9da"/>
<path d="M1327 2192 q23.22 -7 46.44 0 t46.44 0 t46.44 0 t46.44 0 t46.44 0 t46.44 0 t46.44 0 t46.44 0 t46.44 0 t46.44 0 t46.44 0 t46.44 0 t46.44 0 t46.44 0 t46.44 0 t46.44 0 t46.44 0 t46.44 0 M1327 2261 q23.22 -7 46.44 0 t46.44 0 t46.44 0 t46.44 0 t46.44 0 t46.44 0 t46.44 0 t46.44 0 t46.44 0 t46.44 0 t46.44 0 t46.44 0 t46.44 0 t46.44 0 t46.44 0 t46.44 0 t46.44 0 t46.44 0" fill="none" stroke="#444" stroke-width="2"/>
<rect x="1836" y="2000" width="224" height="642" fill="none" stroke="#ff0000" stroke-width="9"/>

<!-- Code box 4 -->
<rect x="2296" y="2014" width="1074" height="422" fill="#fff" stroke="#000" stroke-width="3.5"/>
<g font-size="40" fill="#000">
<text x="2330" y="2079" textLength="581" lengthAdjust="spacingAndGlyphs"><tspan fill="#4472c4">Sub</tspan> シート名の変更_本日の日付()</text>
<text x="2371" y="2141" textLength="301" lengthAdjust="spacingAndGlyphs">Worksheets.Add</text>
<text x="2371" y="2206" textLength="846" lengthAdjust="spacingAndGlyphs">ActiveSheet.Name = Format (Date, "m月d日")</text>
<text x="2330" y="2270" fill="#4472c4" textLength="157" lengthAdjust="spacingAndGlyphs">End Sub</text>
</g>
<text x="2986" y="2129" font-size="44" fill="#f23b3b" textLength="259" lengthAdjust="spacingAndGlyphs">Format関数</text>
<text x="3060" y="2283" font-size="44" fill="#f23b3b" textLength="205" lengthAdjust="spacingAndGlyphs">Date関数</text>
<polyline points="2958,2112 2862,2112 2834,2150" fill="none" stroke="#2f528f" stroke-width="5"/>
<circle cx="2829" cy="2155" r="12" fill="#2f528f"/>
<polyline points="2958,2233 2962,2275 3041,2275" fill="none" stroke="#2f528f" stroke-width="5"/>
<circle cx="2958" cy="2233" r="12" fill="#2f528f"/>

<!-- Callout 3 -->
<rect x="2304" y="1662" width="1001" height="291" rx="50" fill="#fff2cc" stroke="#ed7d31" stroke-width="8"/>
<polygon points="2966,1948 2966,1990 2930,1990 2999,2051 3067,1990 3030,1990 3030,1948" fill="#fff2cc" stroke="#ed7d31" stroke-width="6"/>
<rect x="2969" y="1942" width="58" height="18" fill="#fff2cc"/>
<text x="2356" y="1765" font-size="40" font-weight="bold" fill="#111" textLength="502" lengthAdjust="spacingAndGlyphs">《1．オブジェクトの操作》</text>
<text x="2356" y="1828" font-size="36" fill="#111" textLength="881" lengthAdjust="spacingAndGlyphs">新しいシートを追加し、関数を使用して追加したシートの</text>
<text x="2356" y="1887" font-size="36" fill="#111" textLength="834" lengthAdjust="spacingAndGlyphs">名前を本日の日付（●月●日の形式）に変更する</text>

<!-- Tab image 1 -->
<g clip-path="url(#t1)">
<rect x="3297" y="1951" width="1302" height="182" fill="#fff"/>
<rect x="3297" y="1951" width="86" height="110" fill="#e6e6e6"/>
<path d="M3609 1951V2061M3833 1951V2061M4059 1951V2061M4285 1951V2061M4510 1951V2061" stroke="#d9d9d9" stroke-width="2"/>
<path d="M3297 1990H4599" stroke="#d0d0d0" stroke-width="4"/>
<path d="M3383 1951V2061" stroke="#c0c0c0" stroke-width="2"/>
<text x="3340" y="1968" font-size="42" text-anchor="middle" fill="#222">6</text>
<text x="3340" y="2045" font-size="42" text-anchor="middle" fill="#222">7</text>
<rect x="3297" y="2061" width="1302" height="72" fill="#e6e6e6"/>
<path d="M3297 2062H4599" stroke="#c6c6c6" stroke-width="3"/>
<polygon points="3366,2081 3352,2095 3366,2109" fill="#b4b4b4"/>
<polygon points="3423,2081 3437,2095 3423,2109" fill="#1e4d2b"/>
<rect x="3530" y="2059" width="209" height="59" fill="#fff"/>
<rect x="3530" y="2115" width="209" height="6" fill="#217346"/>
<path d="M3954 2068V2118M4166 2068V2118M4390 2068V2118" stroke="#a8a8a8" stroke-width="2"/>
<g font-size="42" text-anchor="middle" fill="#444">
<text x="3634" y="2104" fill="#217346" textLength="147" lengthAdjust="spacingAndGlyphs">Sheet1</text>
<text x="3845" y="2104" textLength="149" lengthAdjust="spacingAndGlyphs">Sheet2</text>
<text x="4056" y="2104" textLength="149" lengthAdjust="spacingAndGlyphs">Sheet3</text>
<text x="4276" y="2104" textLength="180" lengthAdjust="spacingAndGlyphs">東京支店</text>
<text x="4502" y="2104" textLength="176" lengthAdjust="spacingAndGlyphs">大阪支店</text>
</g>
</g>
<path d="M4599 1951H3297V2133H4599" fill="none" stroke="#111" stroke-width="3"/>

<!-- Down arrow between tabs -->
<polygon points="3609,2156 3664,2156 3664,2201 3684,2201 3637,2245 3590,2201 3609,2201" fill="#2e75b6"/>

<!-- Tab image 2 -->
<g clip-path="url(#t2)">
<rect x="3289" y="2257" width="1304" height="188" fill="#fff"/>
<rect x="3289" y="2257" width="94" height="115" fill="#e6e6e6"/>
<path d="M3609 2257V2372M3833 2257V2372M4059 2257V2372M4285 2257V2372M4510 2257V2372" stroke="#d9d9d9" stroke-width="2"/>
<path d="M3289 2301H4593" stroke="#d0d0d0" stroke-width="4"/>
<path d="M3383 2257V2372" stroke="#c0c0c0" stroke-width="2"/>
<text x="3340" y="2277" font-size="42" text-anchor="middle" fill="#222">6</text>
<text x="3340" y="2356" font-size="42" text-anchor="middle" fill="#222">7</text>
<rect x="3289" y="2372" width="1304" height="73" fill="#e6e6e6"/>
<path d="M3289 2373H4593" stroke="#c6c6c6" stroke-width="3"/>
<polygon points="3366,2391 3352,2405 3366,2419" fill="#b4b4b4"/>
<polygon points="3423,2391 3437,2405 3423,2419" fill="#1e4d2b"/>
<rect x="3530" y="2370" width="197" height="58" fill="#fff"/>
<rect x="3530" y="2425" width="197" height="6" fill="#217346"/>
<path d="M3938 2380V2430M4150 2380V2430M4364 2380V2430M4586 2380V2430" stroke="#a8a8a8" stroke-width="2"/>
<g font-size="42" text-anchor="middle" fill="#444">
<text x="3628" y="2416" fill="#217346" textLength="141" lengthAdjust="spacingAndGlyphs">7月6日</text>
<text x="3830" y="2416" textLength="149" lengthAdjust="spacingAndGlyphs">Sheet1</text>
<text x="4043" y="2416" textLength="149" lengthAdjust="spacingAndGlyphs">Sheet2</text>
<text x="4255" y="2416" textLength="149" lengthAdjust="spacingAndGlyphs">Sheet3</text>
<text x="4475" y="2416" textLength="177" lengthAdjust="spacingAndGlyphs">東京支店</text>
</g>
</g>
<path d="M4593 2257H3289V2445H4593" fill="none" stroke="#111" stroke-width="3"/>
<ellipse cx="3626" cy="2397" rx="150" ry="62" fill="none" stroke="#ff0000" stroke-width="9"/>

<!-- Footer -->
<text x="92" y="2790" font-size="34" fill="#7f7f7f" textLength="268" lengthAdjust="spacingAndGlyphs">2024年3月作成</text>
<text x="4165" y="2790" font-size="34" fill="#7f7f7f" textLength="518" lengthAdjust="spacingAndGlyphs">TACパソコンスクール事務局</text>
</svg>
</body></html>
